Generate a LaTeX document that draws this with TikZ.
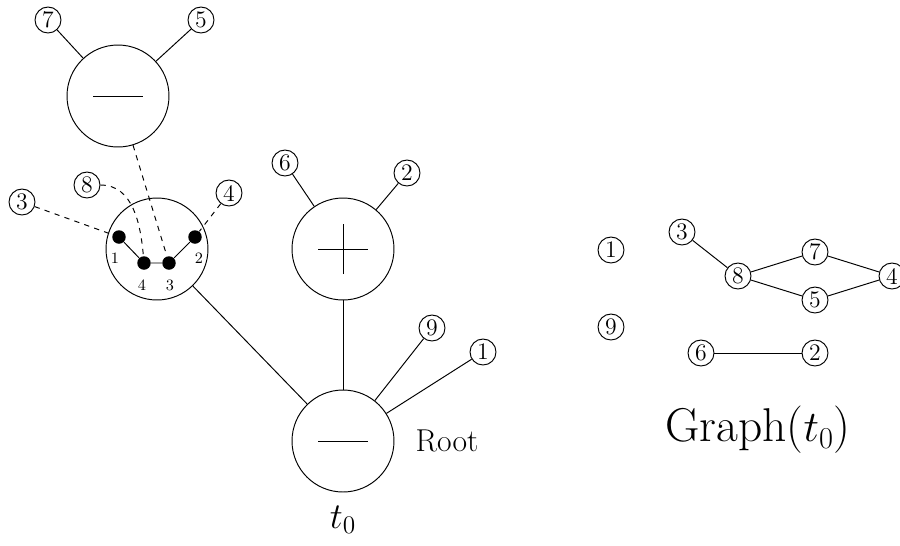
\documentclass[tikz,border=0pt]{standalone}
\usepackage{tikz}

\begin{document}
\begin{tikzpicture}[x=0.02cm, y=-0.02cm, line width=0.55pt,
  leaf/.style={draw, circle, inner sep=0pt, minimum size=0.52cm, font=\fontsize{13.5}{14}\selectfont},
  op/.style={draw, circle, minimum size=2.04cm},
  dot/.style={fill, circle, inner sep=0pt, minimum size=0.27cm},
  lbl/.style={font=\fontsize{9}{10}\selectfont}]
  \useasboundingbox (0,0) rectangle (900,545);

  % tree t0
  \node[op] (top) at (118,96) {};
  \node[op] (gad) at (157,249) {};
  \node[op] (plus) at (343,249) {};
  \node[op] (root) at (343,441) {};
  \draw ([xshift=-0.5cm]top.center) -- ([xshift=0.5cm]top.center);
  \draw ([xshift=-0.5cm]root.center) -- ([xshift=0.5cm]root.center);
  \draw ([xshift=-0.5cm]plus.center) -- ([xshift=0.5cm]plus.center);
  \draw ([yshift=-0.5cm]plus.center) -- ([yshift=0.5cm]plus.center);

  \node[leaf] (a7) at (48,20) {7};
  \node[leaf] (a5) at (201,20) {5};
  \node[leaf] (a3) at (22,202) {3};
  \node[leaf] (a8) at (87,185) {8};
  \node[leaf] (a4) at (229,193) {4};
  \node[leaf] (a6) at (285,163) {6};
  \node[leaf] (a2) at (407,173) {2};
  \node[leaf] (a9) at (432,328) {9};
  \node[leaf] (a1) at (483,352) {1};

  \node[dot] (d1) at (119,237) {};
  \node[dot] (d4) at (144,263) {};
  \node[dot] (d3) at (169,263) {};
  \node[dot] (d2) at (195,237) {};
  \node[lbl] (n1) at (115,258) {1};
  \node[lbl] (n2) at (199,258) {2};
  \node[lbl] (n4) at (142,285) {4};
  \node[lbl] (n3) at (170,285) {3};

  \draw (d1) -- (d4) -- (d3) -- (d2);
  \draw (a7) -- (top);
  \draw (a5) -- (top);
  \draw[dashed] (top) -- (d3);
  \draw[dashed] (a3) -- (d1);
  \draw[dashed] (a8) to[out=0, in=95] (d4);
  \draw[dashed] (a4) -- (d2);
  \draw (a6) -- (plus);
  \draw (a2) -- (plus);
  \draw (gad) -- (root);
  \draw (plus) -- (root);
  \draw (a9) -- (root);
  \draw (a1) -- (root);

  \node[font=\fontsize{18}{20}\selectfont] (rlbl) at (447,441) {Root};
  \node[font=\fontsize{21}{24}\selectfont] (tlbl) at (343,520) {$t_0$};

  % Graph(t0)
  \node[leaf] (g1) at (611,250) {1};
  \node[leaf] (g9) at (611,327) {9};
  \node[leaf] (g3) at (682,232) {3};
  \node[leaf] (g8) at (738,276) {8};
  \node[leaf] (g7) at (815,252) {7};
  \node[leaf] (g5) at (815,300) {5};
  \node[leaf] (g4) at (892,276) {4};
  \node[leaf] (g6) at (701,353) {6};
  \node[leaf] (g2) at (815,353) {2};
  \draw (g3) -- (g8);
  \draw (g8) -- (g7);
  \draw (g8) -- (g5);
  \draw (g7) -- (g4);
  \draw (g5) -- (g4);
  \draw (g6) -- (g2);

  \node[font=\fontsize{27}{30}\selectfont] (glbl) at (758,430) {Graph($t_0$)};
\end{tikzpicture}
\end{document}
